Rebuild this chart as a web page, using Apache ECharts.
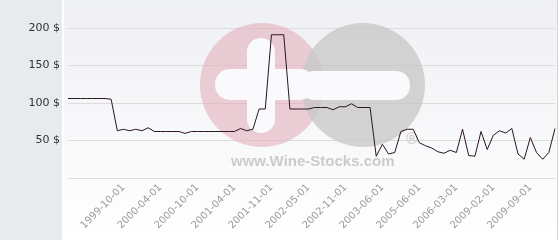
<!DOCTYPE html>
<html>
<head>
<meta charset="utf-8">
<script src="https://cdn.jsdelivr.net/npm/echarts@6/dist/echarts.min.js"></script>
<style>
html,body{margin:0;padding:0;background:#ffffff;}
#chart{width:560px;height:240px;}
</style>
</head>
<body>
<div id="chart"></div>
<script>
var dates = [
  '1999-01-01','1999-02-01','1999-03-01','1999-04-01','1999-05-01','1999-06-01','1999-07-01','1999-08-01','1999-09-01',
  '1999-10-01','1999-11-01','1999-12-01','2000-01-01','2000-02-01','2000-03-01',
  '2000-04-01','2000-05-01','2000-06-01','2000-07-01','2000-08-01','2000-09-01',
  '2000-10-01','2000-11-01','2000-12-01','2001-01-01','2001-02-01','2001-03-01',
  '2001-04-01','2001-05-01','2001-06-01','2001-07-01','2001-09-01','2001-10-01',
  '2001-11-01','2001-12-01','2002-01-01','2002-02-01','2002-03-01','2002-04-01',
  '2002-05-01','2002-06-01','2002-07-01','2002-08-01','2002-09-01','2002-10-01',
  '2002-11-01','2002-12-01','2003-01-01','2003-02-01','2003-04-01','2003-05-01',
  '2003-06-01','2003-10-01','2004-02-01','2004-06-01','2004-10-01','2005-02-01',
  '2005-06-01','2005-07-01','2005-09-01','2005-10-01','2005-12-01','2006-01-01',
  '2006-03-01','2006-09-01','2007-03-01','2007-09-01','2008-03-01','2008-09-01',
  '2009-02-01','2009-03-01','2009-04-01','2009-05-01','2009-06-01','2009-08-01',
  '2009-09-01','2009-10-01','2009-11-01','2009-12-01','2010-01-01'
];
var prices = [
  106,106,106,106,106,106,106,105,63,
  65,63,65,63,67,62,
  62,62,62,62,59.5,62,
  62,62,62,62,62,62,
  62,66,63,65,92,92,
  191,191,191,92,92,92,
  92,94,94,94,91,95,
  95,99,94,94,94,29,
  45,32,34,62,65,65,
  47,43,40,35,33,37,
  34,65,30,29,62,38,
  57,63,60,66,32,25,
  54,34,25,34,66
];
var yTicks = [0, 50, 100, 150, 200];
var labelStart = 9, labelStep = 6;

var chart = echarts.init(document.getElementById('chart'), null, {renderer: 'canvas'});
chart.setOption({
  animation: false,
  graphic: [
    {type: 'rect', z: -10, shape: {x: 0, y: 0, width: 62, height: 240}, style: {fill: '#e7ebee'}},
    {type: 'rect', z: -10, shape: {x: 64, y: 0, width: 493, height: 240},
     style: {fill: new echarts.graphic.LinearGradient(0, 0, 0, 1, [
       {offset: 0, color: '#eff0f4'}, {offset: 1, color: '#ffffff'}])}},
    {type: 'line', z: -9, shape: {x1: 557.5, y1: 0, x2: 557.5, y2: 240}, style: {stroke: '#d4d4d4', lineWidth: 1}},
    {type: 'circle', z: 1, shape: {cx: 262, cy: 85, r: 62}, style: {fill: 'rgba(225,170,182,0.55)'}},
    {type: 'circle', z: 1, shape: {cx: 363, cy: 85, r: 62}, style: {fill: 'rgba(200,200,200,0.78)'}},
    {type: 'rect', z: 1, shape: {x: 247, y: 38, width: 28, height: 95, r: 14}, style: {fill: '#fafafc'}},
    {type: 'rect', z: 1, shape: {x: 215, y: 69, width: 100, height: 31, r: 15}, style: {fill: '#fafafc'}},
    {type: 'rect', z: 1, shape: {x: 300, y: 71, width: 110, height: 29, r: 14}, style: {fill: '#fafafc'}},
    {type: 'text', z: 1, x: 231, y: 162, style: {text: 'www.Wine-Stocks.com', fill: '#cbcbcb',
      font: 'bold 15px "Liberation Sans", Arial, sans-serif', textVerticalAlign: 'middle', textAlign: 'left'}},
    {type: 'text', z: 1, x: 412, y: 140, style: {text: '®', fill: '#cfcfcf',
      font: 'bold 16px "Liberation Sans", Arial, sans-serif', textVerticalAlign: 'middle', textAlign: 'center'}}
  ],
  grid: {left: 68, right: 5, top: 28, bottom: 62, containLabel: false},
  xAxis: {
    type: 'category',
    data: dates,
    boundaryGap: false,
    axisLine: {show: false},
    axisTick: {show: false},
    axisLabel: {
      rotate: 45,
      margin: 8,
      color: '#9a9a9a',
      fontSize: 10,
      fontFamily: 'DejaVu Sans',
      interval: function (index) { return index >= labelStart && (index - labelStart) % labelStep === 0; }
    },
    splitLine: {show: false}
  },
  yAxis: {
    type: 'value',
    min: yTicks[0],
    max: yTicks[yTicks.length - 1],
    interval: 50,
    axisLine: {show: false},
    axisTick: {show: false},
    axisLabel: {
      margin: 8,
      color: '#333333',
      fontSize: 11,
      fontFamily: 'DejaVu Sans',
      formatter: function (v) { return v === 0 ? '' : v + ' $'; }
    },
    splitLine: {show: true, lineStyle: {color: '#dcdcdc', width: 1}}
  },
  series: [{
    type: 'line',
    data: prices,
    z: 5,
    symbol: 'none',
    lineStyle: {color: '#2a1520', width: 1},
    silent: true
  }]
});
</script>
</body>
</html>
